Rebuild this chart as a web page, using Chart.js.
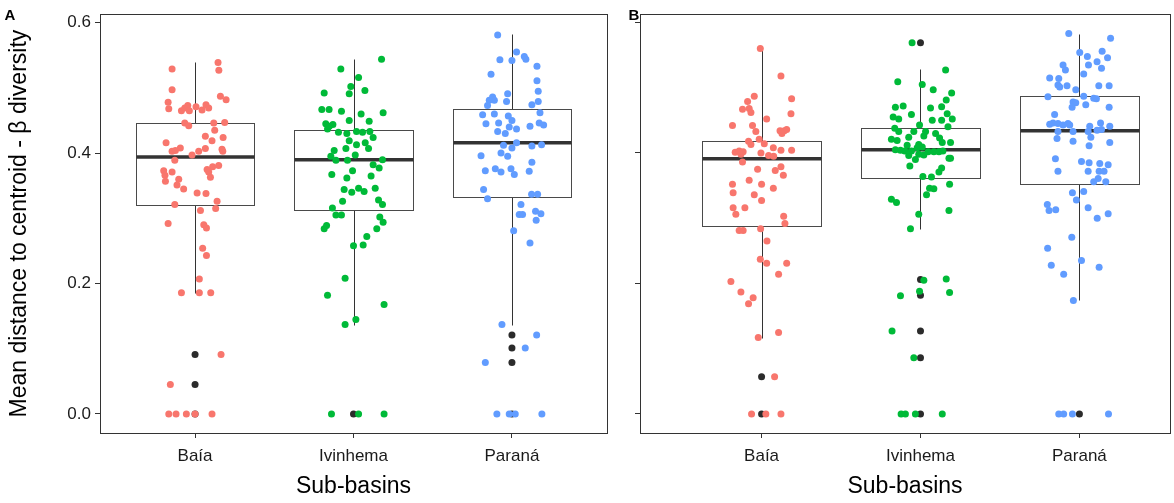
<!DOCTYPE html>
<html><head><meta charset="utf-8">
<script src="https://cdn.jsdelivr.net/npm/chart.js@4.4.0/dist/chart.umd.min.js"></script>
<style>
html,body{margin:0;padding:0;background:#fff;}
#wrap{position:relative;width:1174px;height:503px;overflow:hidden;background:#fff;}
#ca{position:absolute;left:0;top:0;}
#cb{position:absolute;left:612px;top:0;}
</style></head><body>
<div id="wrap"><canvas id="ca" width="612" height="503"></canvas><canvas id="cb" width="562" height="503"></canvas></div>
<script>
const categories = ['Baía', 'Ivinhema', 'Paraná'];
const yTickValues = [0, 0.2, 0.4, 0.6];
const groupColors = ['#F8766D', '#00BA38', '#619CFF'];

// ---------- Panel A : jittered observations ----------
const aBaiaVal = [0.539,0.527,0.529,0.497,0.487,0.482,0.478,0.468,0.465,0.469,0.473,0.465,0.471,0.466,0.474,0.469,0.446,0.447,0.446,0.442,0.435,0.426,0.424,0.419,0.416,0.408,0.403,0.404,0.407,0.406,0.403,0.397,0.403,0.389,0.381,0.379,0.375,0.371,0.373,0.371,0.366,0.363,0.360,0.357,0.351,0.345,0.339,0.338,0.326,0.321,0.315,0.312,0.292,0.290,0.285,0.254,0.243,0.207,0.186,0.186,0.186,0.091,0.045,0,0,0,0,0];
const aBaiaJit = [0.145,0.15,-0.145,-0.145,0.16,0.196,-0.17,-0.166,-0.086,-0.065,-0.046,-0.036,0.006,0.044,0.069,0.086,0.118,0.187,-0.065,-0.04,0.124,0.065,0.177,0.107,-0.183,-0.093,-0.145,-0.124,0.065,0.17,0.175,-0.019,0.023,-0.128,0.149,0.111,0.076,0.086,-0.198,-0.145,-0.19,0.097,-0.103,-0.187,-0.114,-0.072,0.013,0.069,0.139,-0.128,0.13,0.034,-0.17,0.055,0.072,0.048,0.072,0.027,-0.086,0.027,0.099,0.164,-0.156,-0.166,-0.12,-0.055,0,0.107];

const aIvinVal = [0.544,0.529,0.516,0.502,0.491,0.492,0.496,0.467,0.467,0.464,0.460,0.462,0.450,0.449,0.445,0.444,0.437,0.441,0.432,0.430,0.433,0.432,0.433,0.424,0.419,0.416,0.413,0.407,0.407,0.404,0.397,0.395,0.389,0.389,0.390,0.382,0.377,0.373,0.367,0.365,0.362,0.346,0.344,0.340,0.346,0.341,0.328,0.321,0.326,0.316,0.305,0.305,0.302,0.294,0.284,0.289,0.284,0.272,0.258,0.259,0.208,0.182,0.168,0.145,0.137,0,0,0];
const aIvinJit = [0.177,-0.08,0.032,-0.017,-0.027,-0.185,0.072,-0.2,-0.154,-0.076,0.048,0.187,-0.027,0.099,-0.175,-0.13,-0.164,-0.153,-0.095,-0.042,0.019,0.057,0.103,0.124,-0.027,0.074,0.019,-0.048,0.095,-0.122,0.011,-0.143,-0.111,-0.038,0.183,0.124,0.162,-0.006,-0.137,0.111,-0.042,0.137,-0.059,-0.011,0.032,0.067,0.158,0.183,-0.069,-0.133,-0.111,-0.076,0.166,0.187,-0.185,-0.17,0.147,0.084,0,0.061,-0.053,-0.164,0.193,0.015,-0.053,-0.139,0.032,0.193];

const aParaVal = [0.581,0.555,0.548,0.544,0.543,0.542,0.533,0.521,0.511,0.495,0.491,0.486,0.481,0.481,0.479,0.473,0.479,0.474,0.462,0.459,0.460,0.457,0.445,0.446,0.450,0.446,0.443,0.441,0.440,0.437,0.433,0.430,0.416,0.412,0.408,0.411,0.413,0.400,0.396,0.395,0.386,0.373,0.376,0.371,0.376,0.367,0.372,0.344,0.330,0.337,0.337,0.321,0.306,0.306,0.311,0.307,0.297,0.281,0.262,0.137,0.121,0.101,0.079,0,0,0,0];
const aParaJit = [-0.09,0.029,0.078,0.088,-0.076,0,0.158,-0.132,0.158,0.166,-0.027,-0.122,-0.111,-0.143,-0.034,-0.154,0.166,0.126,0.177,-0.185,-0.111,-0.023,-0.164,-0.084,0,0.172,0.2,0.114,-0.017,0.029,-0.09,-0.042,0.029,-0.053,0,0.126,0.187,-0.069,-0.195,-0.027,0.126,-0.168,-0.105,-0.069,-0.006,0.015,0.109,-0.179,-0.154,0.124,0.162,0.057,0.046,0.067,0.149,0.183,0.153,0.011,0.114,-0.063,0.156,0.084,-0.168,-0.095,-0.017,0.021,0.189];

// Panel A : box statistics (Baía, Ivinhema, Paraná)
const aQ1 = [0.320, 0.313, 0.333];
const aMedian = [0.394, 0.390, 0.416];
const aQ3 = [0.446, 0.436, 0.468];
const aWhiskLow = [0.186, 0.137, 0.137];
const aWhiskHigh = [0.539, 0.544, 0.583];
const aOutBaia = [0.091, 0.045, 0];
const aOutIvin = [0];
const aOutPara = [0.121, 0.101, 0.079, 0];

// ---------- Panel B : jittered observations ----------
const bBaiaVal = [0.560,0.518,0.483,0.487,0.479,0.467,0.468,0.462,0.460,0.452,0.442,0.442,0.433,0.434,0.434,0.430,0.436,0.421,0.418,0.413,0.414,0.401,0.403,0.402,0.398,0.408,0.404,0.404,0.400,0.396,0.395,0.386,0.375,0.373,0.379,0.366,0.358,0.352,0.352,0.346,0.339,0.336,0.327,0.316,0.316,0.306,0.303,0.292,0.281,0.281,0.284,0.265,0.237,0.231,0.231,0.214,0.203,0.187,0.178,0.169,0.117,0.125,0.057,0,0,0];
const bBaiaJit = [-0.008,0.122,0.189,-0.046,-0.088,-0.12,-0.078,-0.067,0.185,0.032,-0.183,-0.057,-0.036,0.116,0.143,0.128,0.158,-0.015,-0.082,-0.067,0.017,-0.166,-0.141,-0.116,-0.13,0.074,0.122,0.189,-0.004,0.044,0.076,-0.12,-0.025,0.086,0.122,0.137,-0.078,-0.183,0,0.074,-0.179,-0.046,0,-0.179,-0.105,-0.162,0.139,0.147,-0.141,-0.116,-0.006,0.034,-0.008,0.032,0.158,0.107,-0.193,-0.13,-0.053,-0.082,-0.021,0.107,0.082,-0.063,0.027,0.122];

const bIvinVal = [0.569,0.527,0.509,0.505,0.497,0.492,0.481,0.470,0.472,0.469,0.471,0.455,0.452,0.459,0.460,0.452,0.450,0.450,0.443,0.440,0.438,0.433,0.433,0.433,0.430,0.426,0.424,0.421,0.419,0.423,0.416,0.416,0.413,0.412,0.409,0.408,0.405,0.404,0.403,0.403,0.402,0.402,0.402,0.403,0.398,0.397,0.396,0.390,0.392,0.392,0.380,0.377,0.371,0.364,0.363,0.352,0.346,0.345,0.336,0.329,0.324,0.312,0.306,0.284,0.205,0.207,0.188,0.181,0.186,0.127,0.086,0,0,0,0];
const bIvinJit = [-0.053,0.158,-0.143,0.011,0.08,0.196,0.162,-0.158,-0.109,0.063,0.133,-0.172,-0.137,-0.057,0.168,0.2,0.074,0.133,-0.006,0.173,-0.162,-0.137,-0.042,0.032,0.095,0.021,-0.074,-0.183,-0.147,0.12,0.137,0.189,-0.011,-0.084,0.011,-0.021,-0.158,-0.126,-0.099,-0.057,0.048,0.084,0.116,0.141,-0.011,0.021,-0.074,-0.032,0.189,0.179,-0.067,0.133,0.116,0.015,0.069,0.183,0.057,0.084,0.038,-0.183,-0.151,0.179,-0.011,-0.063,0.021,0.162,-0.006,-0.126,0.183,-0.179,-0.042,-0.122,-0.095,-0.032,0.137];

const bParaVal = [0.583,0.576,0.556,0.554,0.548,0.546,0.540,0.535,0.535,0.530,0.527,0.521,0.515,0.514,0.504,0.501,0.503,0.503,0.503,0.497,0.486,0.487,0.484,0.483,0.478,0.477,0.474,0.470,0.470,0.459,0.446,0.444,0.445,0.443,0.445,0.443,0.446,0.441,0.441,0.435,0.436,0.433,0.433,0.433,0.422,0.418,0.424,0.416,0.411,0.391,0.387,0.385,0.384,0.382,0.372,0.372,0.372,0.372,0.361,0.356,0.356,0.341,0.339,0.328,0.321,0.312,0.313,0.316,0.307,0.300,0.271,0.254,0.235,0.228,0.225,0.214,0.174,0,0,0,0];
const bParaJit = [-0.067,0.196,0.143,0.002,0.05,0.177,0.111,-0.103,0.057,0.139,-0.088,0.027,-0.187,-0.13,-0.135,-0.124,-0.078,0.122,0.187,-0.023,-0.198,0.027,0.09,0.107,-0.04,-0.023,0.04,-0.046,0.187,-0.156,-0.166,-0.187,-0.135,-0.103,-0.072,-0.061,0.133,0.191,0.065,0.111,0.139,-0.135,-0.04,0.055,-0.141,-0.04,0.072,0.191,0.061,-0.151,0.013,0.061,0.128,0.181,-0.135,0.055,0.124,0.155,0.118,0.09,0.166,0.027,-0.044,-0.019,-0.202,-0.191,-0.149,0.055,0.181,0.112,-0.048,-0.2,0.013,-0.177,0.124,-0.099,-0.038,-0.13,-0.099,-0.044,0.183];

// Panel B : box statistics
const bQ1 = [0.288, 0.361, 0.352];
const bMedian = [0.391, 0.405, 0.434];
const bQ3 = [0.418, 0.439, 0.488];
const bWhiskLow = [0.117, 0.284, 0.174];
const bWhiskHigh = [0.560, 0.528, 0.583];
const bOutBaia = [0.057, 0];
const bOutIvin = [0.569, 0.206, 0.182, 0.127, 0.086, 0];
const bOutPara = [0];

// ---------- drawing ----------
const FONT = '"Liberation Sans", Arial, sans-serif';

const boxPlugin = {
  id: 'boxes',
  beforeDatasetsDraw(chart, args, o) {
    const {ctx, chartArea: a, scales: {x, y}} = chart;
    ctx.save();
    for (let i = 0; i < 3; i++) {
      const c = i + 1;
      const cx = Math.round(x.getPixelForValue(c)) + 0.5;
      const l = Math.round(x.getPixelForValue(c - 0.375)) + 0.5;
      const r = Math.round(x.getPixelForValue(c + 0.375)) + 0.5;
      const py = v => Math.round(y.getPixelForValue(v)) + 0.5;
      ctx.strokeStyle = '#333';
      ctx.lineWidth = 1;
      ctx.beginPath();
      ctx.moveTo(cx, py(o.hi[i])); ctx.lineTo(cx, py(o.q3[i]));
      ctx.moveTo(cx, py(o.q1[i])); ctx.lineTo(cx, py(o.lo[i]));
      ctx.stroke();
      ctx.fillStyle = '#fff';
      ctx.fillRect(l, py(o.q3[i]), r - l, py(o.q1[i]) - py(o.q3[i]));
      ctx.strokeStyle = '#4a4a4a';
      ctx.strokeRect(l, py(o.q3[i]), r - l, py(o.q1[i]) - py(o.q3[i]));
      ctx.strokeStyle = '#333';
      ctx.lineWidth = 3.5;
      ctx.beginPath();
      const m = y.getPixelForValue(o.med[i]);
      ctx.moveTo(l, m); ctx.lineTo(r, m);
      ctx.stroke();
    }
    ctx.lineWidth = 1;
    ctx.strokeStyle = '#333';
    ctx.strokeRect(Math.round(a.left) + 0.5, Math.round(a.top) + 0.5, Math.round(a.right - a.left), Math.round(a.bottom - a.top));
    ctx.restore();
  },
  afterDraw(chart, args, o) {
    const {ctx, chartArea: a} = chart;
    ctx.save();
    ctx.fillStyle = '#000';
    ctx.textAlign = 'center';
    ctx.textBaseline = 'middle';
    ctx.font = '23px ' + FONT;
    ctx.fillText(o.xTitle, (a.left + a.right) / 2, o.xTitleY);
    if (o.yTitle) {
      ctx.save();
      ctx.translate(o.yTitleX, (a.top + a.bottom) / 2);
      ctx.rotate(-Math.PI / 2);
      ctx.fillText(o.yTitle, 0, 0);
      ctx.restore();
    }
    ctx.font = 'bold 15px ' + FONT;
    ctx.fillText(o.letter, o.letterX, o.letterY);
    ctx.restore();
  }
};

const bgPlugin = {
  id: 'bg',
  beforeDraw(chart) {
    const ctx = chart.ctx;
    ctx.save(); ctx.fillStyle = '#fff'; ctx.fillRect(0, 0, chart.width, chart.height); ctx.restore();
  }
};

function pts(vals, jit, c) {
  return vals.map((v, i) => ({x: c + jit[i], y: v}));
}
function outPts(vals, c) {
  return vals.map(v => ({x: c, y: v}));
}

function makePanel(id, d) {
  const datasets = [
    {data: [...outPts(d.out[0], 1), ...outPts(d.out[1], 2), ...outPts(d.out[2], 3)],
     backgroundColor: '#2b2b2b', pointRadius: 3.5, borderWidth: 0, order: 5},
  ];
  for (let g = 0; g < 3; g++) {
    datasets.push({data: pts(d.vals[g], d.jits[g], g + 1), backgroundColor: groupColors[g],
      pointRadius: 3.5, borderWidth: 0, order: 4 - g});
  }
  return new Chart(document.getElementById(id), {
    type: 'scatter',
    data: {datasets},
    plugins: [bgPlugin, boxPlugin],
    options: {
      responsive: false, animation: false, devicePixelRatio: 1,
      layout: {padding: {top: d.padTop, right: d.padRight, left: 0, bottom: 0}},
      plugins: {
        legend: {display: false}, tooltip: {enabled: false},
        boxes: {q1: d.q1, med: d.med, q3: d.q3, lo: d.lo, hi: d.hi,
          xTitle: 'Sub-basins', xTitleY: 487, yTitle: d.yTitle, yTitleX: 20,
          letter: d.letter, letterX: d.letterX, letterY: 16}
      },
      scales: {
        x: {
          type: 'linear', min: d.xMin, max: d.xMax,
          afterBuildTicks: s => { s.ticks = [1, 2, 3].map(v => ({value: v})); },
          afterFit: s => { s.height = 503 - d.bottom; },
          ticks: {callback: v => categories[v - 1], color: '#1a1a1a', font: {size: 17, family: FONT}, padding: 8, maxRotation: 0, autoSkip: false},
          grid: {drawOnChartArea: false, drawTicks: true, tickLength: 5, tickColor: '#333', tickWidth: 1},
          border: {display: false}
        },
        y: {
          type: 'linear', min: -0.0292, max: 0.613,
          afterBuildTicks: s => { s.ticks = yTickValues.map(v => ({value: v})); },
          afterFit: s => { s.width = d.left; },
          ticks: {display: d.showY, callback: v => v.toFixed(1), color: '#1a1a1a', font: {size: 17, family: FONT}, padding: 4},
          grid: {drawOnChartArea: false, drawTicks: true, tickLength: 5, tickColor: '#333', tickWidth: 1},
          border: {display: false}
        }
      }
    }
  });
}

makePanel('ca', {
  vals: [aBaiaVal, aIvinVal, aParaVal], jits: [aBaiaJit, aIvinJit, aParaJit],
  out: [aOutBaia, aOutIvin, aOutPara],
  q1: aQ1, med: aMedian, q3: aQ3, lo: aWhiskLow, hi: aWhiskHigh,
  left: 100, padRight: 5, padTop: 14, bottom: 433, xMin: 0.4, xMax: 3.6,
  showY: true, yTitle: 'Mean distance to centroid - \u03b2 diversity', letter: 'A', letterX: 10
});
makePanel('cb', {
  vals: [bBaiaVal, bIvinVal, bParaVal], jits: [bBaiaJit, bIvinJit, bParaJit],
  out: [bOutBaia, bOutIvin, bOutPara],
  q1: bQ1, med: bMedian, q3: bQ3, lo: bWhiskLow, hi: bWhiskHigh,
  left: 28, padRight: 2, padTop: 14, bottom: 433, xMin: 0.235, xMax: 3.57,
  showY: false, yTitle: null, letter: 'B', letterX: 22
});
</script>
</body></html>
